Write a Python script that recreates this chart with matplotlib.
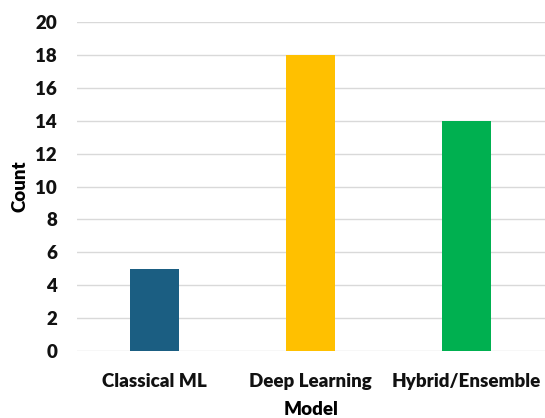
import matplotlib.pyplot as plt
import numpy as np

categories = ["Classical ML", "Deep Learning", "Hybrid/Ensemble"]
counts = [5, 18, 14]
colors = ["#1B5E82", "#FFC000", "#00B050"]
yticks = list(range(0, 21, 2))

plt.rcParams["font.family"] = ["Lato", "DejaVu Sans"]

fig = plt.figure(figsize=(5.45, 4.18), dpi=100)
ax = fig.add_axes([0.1404, 0.1603, 0.859, 0.787])

x = np.arange(len(categories))
ax.bar(x, counts, width=0.314, color=colors, zorder=3)

ax.set_xlim(-0.5, len(categories) - 0.5)
ax.set_ylim(0, 20)
ax.set_yticks(yticks)
ax.set_xticks(x)
ax.set_xticklabels(categories)
ax.grid(axis="y", color="#D9D9D9", linewidth=1, zorder=0)
for s in ax.spines.values():
    s.set_visible(False)
ax.tick_params(length=0, labelsize=13.5, colors="#111111")
ax.tick_params(axis="y", pad=14)
ax.tick_params(axis="x", pad=16)
for lab in ax.get_xticklabels() + ax.get_yticklabels():
    lab.set_fontweight("heavy")

ax.set_ylabel("Count", fontsize=13.5, fontweight="heavy", labelpad=5)
ax.set_xlabel("Model", fontsize=13.5, fontweight="heavy", labelpad=8)

fig.savefig("out.png", dpi=100)
